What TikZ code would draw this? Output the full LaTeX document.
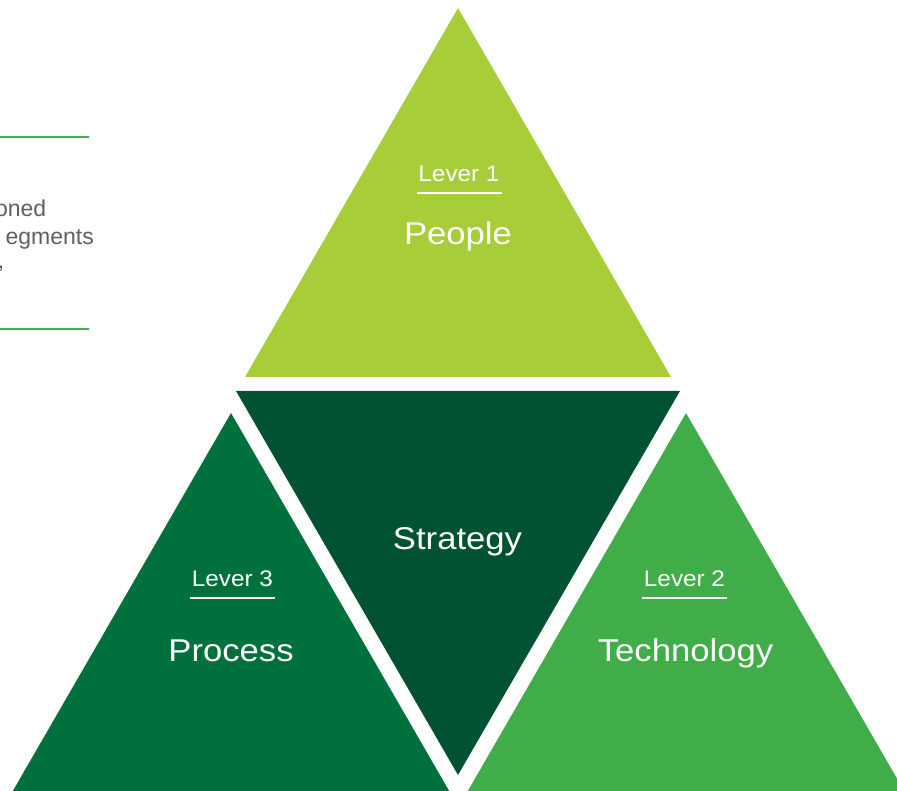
\documentclass[tikz,border=0pt]{standalone}
\usepackage{fontspec}
\setmainfont{Liberation Sans}
\newfontfamily\lblfont[FakeStretch=1.1]{Liberation Sans}
\newfontfamily\leverfont[FakeStretch=1.08]{Liberation Sans}
\definecolor{peoplegreen}{RGB}{167,206,57}
\definecolor{strategygreen}{RGB}{0,82,51}
\definecolor{processgreen}{RGB}{0,112,60}
\definecolor{techgreen}{RGB}{65,173,73}
\definecolor{rulegreen}{RGB}{61,181,74}
\definecolor{bodygray}{RGB}{95,95,95}
\tikzset{
  bigtext/.style={text=white, anchor=base, inner sep=0pt, font=\lblfont\fontsize{31.5}{31.5}\selectfont},
  levertext/.style={text=white, anchor=base, inner sep=0pt, font=\leverfont\fontsize{22.5}{22.5}\selectfont},
  leverrule/.style={draw=white, line width=2pt},
  sidetext/.style={text=bodygray, anchor=base east, inner sep=0pt, font=\fontsize{23}{23}\selectfont},
  siderule/.style={draw=rulegreen, line width=1.6pt}
}
\begin{document}
\begin{tikzpicture}[x=1pt,y=-1pt]
\useasboundingbox (0,0) rectangle (897,791);
\clip (0,0) rectangle (897,791);
% triangles
\fill[peoplegreen] (458,8) coordinate (pTop) -- (245,377) coordinate (pL) -- (671,377) coordinate (pR) -- cycle;
\fill[strategygreen] (236,391) coordinate (sL) -- (680,391) coordinate (sR) -- (458,775) coordinate (sB) -- cycle;
\fill[processgreen] (231,413) coordinate (prTop) -- (7.6,800) -- (454.4,800) -- cycle;
\fill[techgreen] (686,413) coordinate (tTop) -- (462.6,800) -- (909.4,800) -- cycle;
% labels
\node[levertext] (lev1) at (459,182) {Lever 1};
\draw[leverrule] (417,193) coordinate (u1a) -- (502,193) coordinate (u1b);
\node[bigtext] (people) at (458,245) {People};
\node[bigtext] (strategy) at (457.5,549) {Strategy};
\node[levertext] (lev3) at (232.5,586) {Lever 3};
\draw[leverrule] (190,598) coordinate (u3a) -- (275,598) coordinate (u3b);
\node[bigtext] (process) at (231,661) {Process};
\node[levertext] (lev2) at (684.5,586) {Lever 2};
\draw[leverrule] (642,598) coordinate (u2a) -- (727,598) coordinate (u2b);
\node[bigtext] (technology) at (685.5,661) {Technology};
% side text block (cut off at the left)
\draw[siderule] (-5,137) coordinate (r1a) -- (89,137) coordinate (r1b);
\draw[siderule] (-5,329) coordinate (r2a) -- (89,329) coordinate (r2b);
\node[sidetext] (side1) at (46.5,217) {oned};
\node[sidetext] (side2) at (94,245) {egments};
\node[sidetext] (side3) at (4.5,269) {,};
\end{tikzpicture}
\end{document}
